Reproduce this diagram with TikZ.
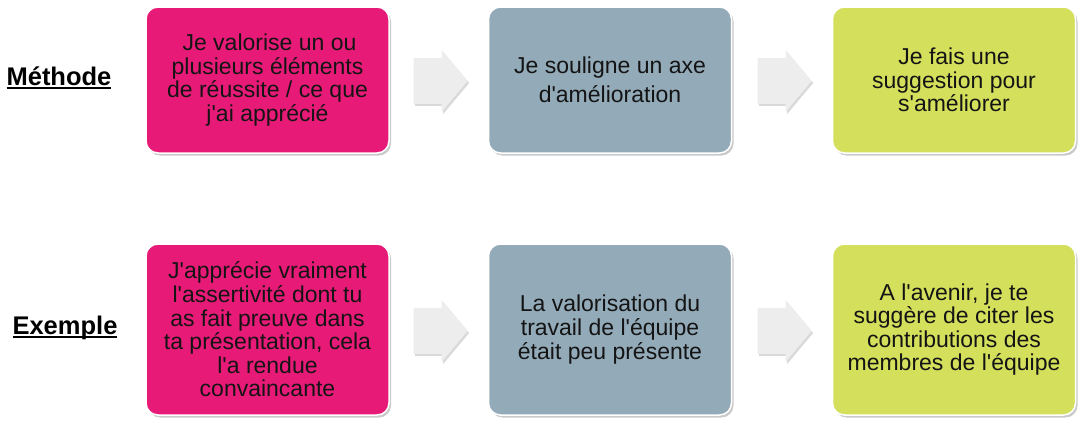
\documentclass[tikz,border=0pt]{standalone}
\usepackage{fontspec}
\setmainfont{Liberation Sans}
\usetikzlibrary{shapes.arrows,shadows}
\definecolor{pinkbox}{HTML}{E71B77}
\definecolor{greybox}{HTML}{93AAB8}
\definecolor{greenbox}{HTML}{D4DF5C}
\definecolor{txt}{HTML}{141414}
\definecolor{arrowfill}{HTML}{EDEDED}
\newcommand{\q}{\textquotesingle}
\newcommand{\ulabel}[1]{{\setbox0\hbox{#1}\rlap{\rule[-3.5pt]{\wd0}{1.8pt}}\box0}}
\begin{document}
\begin{tikzpicture}[x=1pt,y=-1pt,
  box/.style={draw=white,line width=1.5pt,rounded corners=12pt,
    minimum width=243pt,align=center,text=txt,inner sep=2pt,
    font=\fontsize{23}{23.6}\selectfont,
    drop shadow={shadow xshift=2pt,shadow yshift=-2.5pt,opacity=0.35,fill=black!60}},
  rowlabel/.style={font=\bfseries\fontsize{25.5}{28}\selectfont,text=black},
  flow/.style={single arrow,fill=arrowfill,draw=none,inner sep=0pt,
    text height=40pt,text depth=0pt,text width=0pt,
    minimum width=62pt,minimum height=54pt,single arrow tip angle=100,
    drop shadow={shadow xshift=1.5pt,shadow yshift=-2pt,opacity=0.3,fill=black!50}}]
\useasboundingbox (0,0) rectangle (1088,424);
% row 1
\node[rowlabel] (l1) at (59,78) {\ulabel{Méthode}};
\node[box,fill=pinkbox,minimum height=146pt] (a1) at (267.5,80) {\hspace*{4pt}Je valorise un ou\\plusieurs éléments\\de réussite / ce que\\j\q ai apprécié};
\node[box,fill=greybox,minimum height=146pt] (b1) at (610,80) {Je souligne un axe\\[5pt]d\q amélioration};
\node[box,fill=greenbox,minimum height=146pt] (c1) at (954,80) {Je fais une\\suggestion pour\\s\q améliorer};
\node[flow] (f1) at (431,81) {};
\node[flow] (f2) at (775,81) {};
% row 2
\node[rowlabel] (l2) at (65,328) {\ulabel{Exemple}};
\node[box,fill=pinkbox,minimum height=171pt] (a2) at (267.5,329.5) {J\q apprécie vraiment\\l\q assertivité dont tu\\as fait preuve dans\\ta présentation, cela\\l\q a rendue\\convaincante};
\node[box,fill=greybox,minimum height=171pt] (b2) at (610,329.5) {La valorisation du\\travail de l\q équipe\\était peu présente};
\node[box,fill=greenbox,minimum height=171pt] (c2) at (954,329.5) {A l\q avenir, je te\\suggère de citer les\\contributions des\\membres de l\q équipe};
\node[flow] (f3) at (431,331) {};
\node[flow] (f4) at (775,331) {};
\end{tikzpicture}
\end{document}
